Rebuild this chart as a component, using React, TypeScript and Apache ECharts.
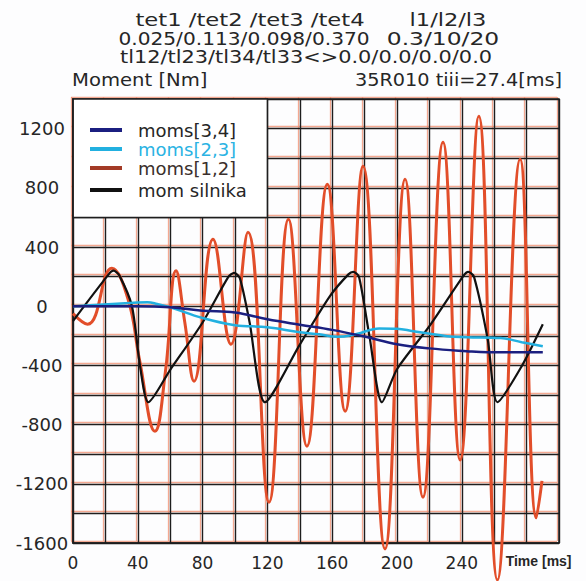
import React, { useEffect, useRef } from 'react';
import * as echarts from 'echarts';

// ---- texts ----
const seriesNames = ['moms[3,4]', 'moms[2,3]', 'moms[1,2]', 'mom silnika'];
const yAxisTitle = 'Moment [Nm]';
const xAxisTitle = 'Time [ms]';
const runInfo = '35R010 tiii=27.4[ms]';
const headerLine1a = 'tet1 /tet2 /tet3 /tet4';
const headerLine1b = 'l1/l2/l3';
const headerLine2a = '0.025/0.113/0.098/0.370';
const headerLine2b = '0.3/10/20';
const headerLine3 = 'tl12/tl23/tl34/tl33<>0.0/0.0/0.0/0.0';

// ---- tick labels ----
const xTickLabels = [0, 40, 80, 120, 160, 200, 240];
const yTickLabels = [-1600, -1200, -800, -400, 0, 400, 800, 1200];

// ---- series values [time ms, moment Nm] ----
const moms34 = [
  [0, 0], [40, 0], [60, -7], [80, -30], [100, -42], [120, -88], [140, -125],
  [160, -160], [180, -205], [200, -257], [220, -285], [243, -304], [256, -311], [290, -311],
];
const moms23 = [
  [0, 0], [40, 25], [46, 27], [52, 15], [60, -7], [80, -80], [100, -128], [120, -142],
  [140, -176], [152, -190], [163, -207], [175, -188], [189, -150], [200, -152], [210, -169],
  [231, -203], [243, -209], [264, -215], [277, -243], [290, -270],
];
const moms12 = [
  [0, -50], [9, -122], [24, 257], [34, 47], [41, -358], [50.6, -845], [57, -446],
  [63.6, 240], [69, -108], [74.7, -507], [86.4, 453], [97.5, -257], [108, 500],
  [121, -1324], [133, 588], [144.4, -946], [157, 824], [168, -709], [179, 946],
  [192.6, -1640], [205, 858], [216, -1290], [228.4, 1108], [239, -1040], [250.5, 1284],
  [262, -1850], [276, 993], [286, -1430], [289.5, -1180],
];
const momSilnika = [
  [0, -100], [22, 215], [25, 240], [28.5, 210], [36.4, 0], [41.4, -405], [46.5, -649],
  [60, -430], [80, -110], [96, 200], [99.5, 225], [103, 190], [109, -108], [118.5, -649],
  [140, -260], [158.6, 68], [170, 215], [173, 232], [176.5, 200], [183, -203], [190.7, -649],
  [200, -426], [220, -135], [241, 205], [244, 232], [247.5, 200], [256, -223], [262, -649],
  [277, -405], [290, -122],
];

const FONT = "'DejaVu Sans', 'Liberation Sans', sans-serif";
const TXT = '#262626';
const GRIDC = '#1e1e1e';
const FRINGE = 'rgba(240,140,110,0.75)';

export default function App() {
  const ref = useRef<HTMLDivElement>(null);
  useEffect(() => {
    if (!ref.current) return;
    const chart = echarts.init(ref.current, null, { renderer: 'svg' });
    const headerText = (text: string, x: number, y: number, align: string, sx: number) => ({
      type: 'text',
      x,
      y,
      scaleX: sx,
      silent: true,
      style: {
        text,
        fill: TXT,
        font: `18px ${FONT}`,
        textAlign: align,
        textVerticalAlign: 'middle',
      },
    });
    const fringeAxis = (min: number, max: number) => ({
      type: 'value',
      gridIndex: 1,
      min,
      max,
      interval: 20 * (max - min > 1000 ? 10 : 1),
      z: 0,
      silent: true,
      axisLine: { show: false },
      axisTick: { show: false },
      axisLabel: { show: false },
      splitLine: { show: true, lineStyle: { color: FRINGE, width: 1.3 } },
    });
    const option: any = {
      animation: false,
      backgroundColor: '#fdfdfe',
      grid: [
        {
          left: 73,
          right: 27,
          top: 99,
          bottom: 38,
          show: true,
          backgroundColor: 'transparent',
          borderColor: GRIDC,
          borderWidth: 1.5,
          z: 1,
        },
        {
          left: 71,
          right: 29,
          top: 97,
          bottom: 40,
          show: false,
          z: 0,
        },
      ],
      xAxis: [
        {
          type: 'value',
          gridIndex: 0,
          min: 0,
          max: 300,
          interval: 20,
          z: 1,
          axisLine: { show: true, onZero: false, lineStyle: { color: GRIDC, width: 1.5 } },
          axisTick: { show: false },
          splitLine: { show: true, lineStyle: { color: GRIDC, width: 1.4 } },
          axisLabel: {
            interval: 0,
            margin: 11,
            color: TXT,
            fontFamily: FONT,
            fontSize: 17,
            showMaxLabel: true,
            formatter: (v: number) => {
              if (xTickLabels.includes(v)) return String(v);
              if (v === 280) return `{t|${xAxisTitle}}`;
              return '';
            },
            rich: {
              t: {
                fontFamily: "'Liberation Sans', Arial, sans-serif",
                fontWeight: 'bold',
                fontSize: 14,
                color: TXT,
                padding: [0, 0, 0, 24],
              },
            },
          },
        },
        fringeAxis(0, 300),
      ],
      yAxis: [
        {
          type: 'value',
          gridIndex: 0,
          min: -1600,
          max: 1400,
          interval: 200,
          z: 1,
          axisLine: { show: true, onZero: false, lineStyle: { color: GRIDC, width: 1.5 } },
          axisTick: { show: false },
          splitLine: { show: true, lineStyle: { color: GRIDC, width: 1.4 } },
          axisLabel: {
            margin: 31,
            align: 'center',
            color: TXT,
            fontFamily: FONT,
            fontSize: 18,
            padding: [0, 0, 10, 0],
            formatter: (v: number) => (yTickLabels.includes(v) ? String(v) : ''),
          },
        },
        fringeAxis(-1600, 1400),
      ],
      legend: [
        {
          left: 90,
          top: 121,
          orient: 'vertical',
          padding: 0,
          itemGap: 1,
          itemWidth: 32,
          itemHeight: 4,
          icon: 'rect',
          textStyle: { fontFamily: FONT, fontSize: 18, lineHeight: 18, color: TXT, padding: [0, 0, 0, 11] },
          data: [
            { name: seriesNames[0], textStyle: { color: TXT } },
            { name: seriesNames[1], textStyle: { color: '#2bb3e3' } },
            { name: seriesNames[2], itemStyle: { color: '#a33a26' }, textStyle: { color: '#3b2f2c' } },
          ],
          selectedMode: false,
        },
        {
          left: 90,
          top: 181,
          orient: 'vertical',
          padding: 0,
          itemWidth: 32,
          itemHeight: 4,
          icon: 'rect',
          textStyle: { fontFamily: FONT, fontSize: 18, lineHeight: 18, color: TXT, padding: [0, 0, 0, 11] },
          data: [{ name: seriesNames[3] }],
          selectedMode: false,
        },
      ],
      graphic: [
        headerText(headerLine1a, 250, 20, 'center', 1.26),
        headerText(headerLine1b, 448, 20, 'center', 1.25),
        headerText(headerLine2a, 244, 39, 'center', 1.12),
        headerText(headerLine2b, 443, 39, 'center', 1.3),
        headerText(headerLine3, 306, 57, 'center', 1.16),
        headerText(yAxisTitle, 72, 80, 'left', 1.09),
        headerText(runInfo, 562, 80, 'right', 1.07),
      ],
      series: [
        {
          name: seriesNames[2],
          type: 'line',
          xAxisIndex: 0,
          yAxisIndex: 0,
          data: moms12,
          clip: false,
          smooth: 0.45,
          showSymbol: false,
          color: '#e24e2a',
          lineStyle: { width: 3, color: '#e24e2a' },
          z: 3,
          markArea: {
            silent: true,
            itemStyle: { color: '#ffffff', borderColor: GRIDC, borderWidth: 1.5, opacity: 1 },
            data: [[{ coord: [0, 600] }, { coord: [120, 1400] }]],
          },
        },
        {
          name: seriesNames[3],
          type: 'line',
          xAxisIndex: 0,
          yAxisIndex: 0,
          data: momSilnika,
          smooth: 0.25,
          showSymbol: false,
          color: '#111111',
          lineStyle: { width: 2.2, color: '#111111' },
          z: 4,
        },
        {
          name: seriesNames[1],
          type: 'line',
          xAxisIndex: 0,
          yAxisIndex: 0,
          data: moms23,
          smooth: 0.4,
          showSymbol: false,
          color: '#22b0e0',
          lineStyle: { width: 2.5, color: '#22b0e0' },
          z: 5,
        },
        {
          name: seriesNames[0],
          type: 'line',
          xAxisIndex: 0,
          yAxisIndex: 0,
          data: moms34,
          smooth: 0.4,
          showSymbol: false,
          color: '#1b1f80',
          lineStyle: { width: 2.5, color: '#1b1f80' },
          z: 6,
        },
      ],
    };
    chart.setOption(option);
    return () => chart.dispose();
  }, []);
  return (
    <div
      ref={ref}
      style={{ position: 'fixed', left: 0, top: 0, width: 586, height: 581 }}
    />
  );
}
